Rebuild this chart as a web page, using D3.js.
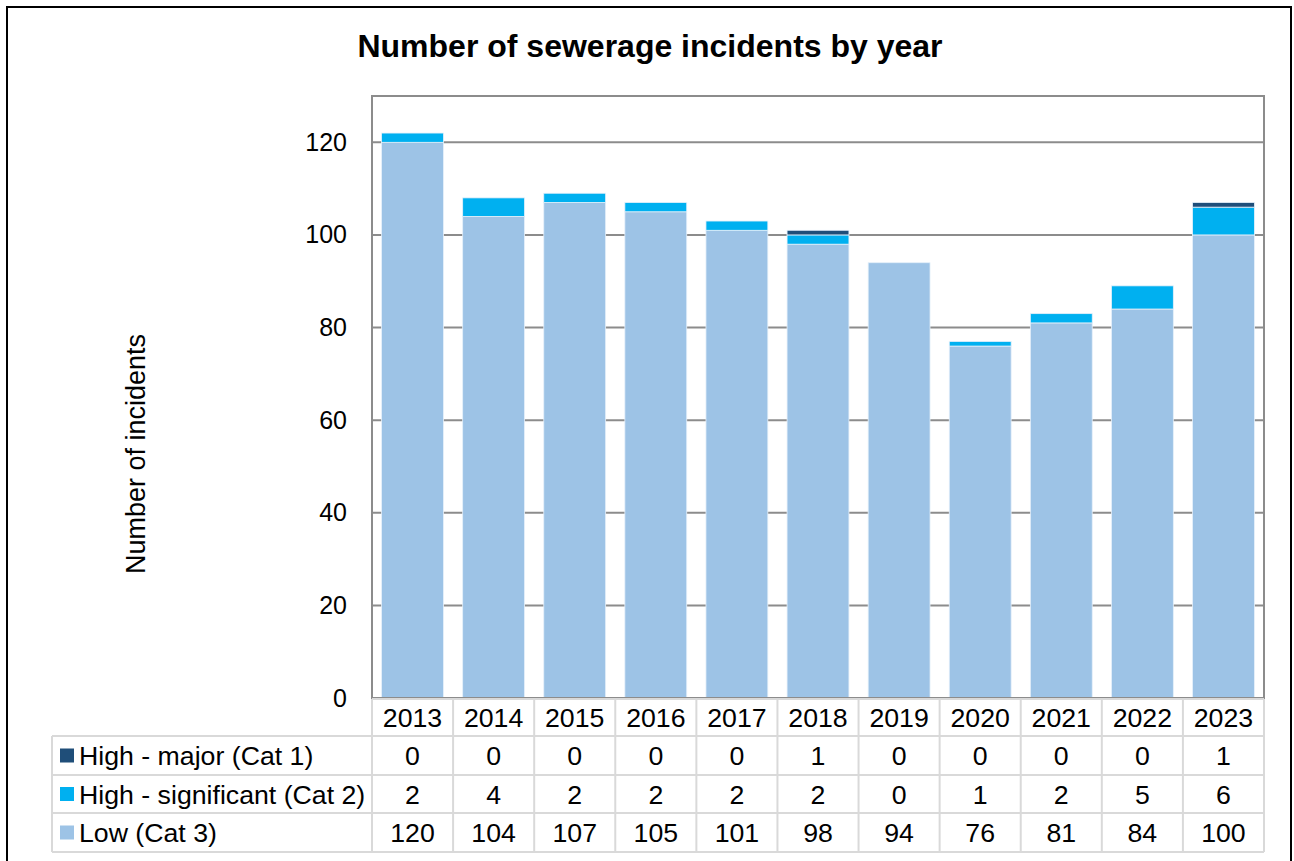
<!DOCTYPE html>
<html>
<head>
<meta charset="utf-8">
<script src="https://cdn.jsdelivr.net/npm/d3@7"></script>
<style>
  html, body { margin: 0; padding: 0; background: #fff; }
  svg { display: block; font-family: Arial, "Liberation Sans", sans-serif; }
</style>
</head>
<body>
<svg id="chart" width="1294" height="861"></svg>
<script>
// Sewerage incidents per year, split by category
const years = ["2013", "2014", "2015", "2016", "2017", "2018", "2019", "2020", "2021", "2022", "2023"];
const cat1 = [0, 0, 0, 0, 0, 1, 0, 0, 0, 0, 1];
const cat2 = [2, 4, 2, 2, 2, 2, 0, 1, 2, 5, 6];
const cat3 = [120, 104, 107, 105, 101, 98, 94, 76, 81, 84, 100];
const seriesNames = ["High - major (Cat 1)", "High - significant (Cat 2)", "Low (Cat 3)"];
const seriesColors = ["#1F4E79", "#00B0F0", "#9DC3E6"];
const yTicks = [0, 20, 40, 60, 80, 100, 120];

const svg = d3.select("#chart");
const plot = { left: 372, right: 1264, top: 96, bottom: 698 };
const tableFont = 26.7;

// Outer chart border
svg.append("rect")
  .attr("x", 7).attr("y", 7).attr("width", 1284).attr("height", 870)
  .attr("fill", "#fff").attr("stroke", "#000").attr("stroke-width", 2);

// Title
svg.append("text")
  .attr("x", 650).attr("y", 57)
  .attr("text-anchor", "middle")
  .attr("font-size", 32).attr("font-weight", "bold")
  .text("Number of sewerage incidents by year");

const x = d3.scaleBand().domain(years).range([plot.left, plot.right]).paddingInner(0.237).paddingOuter(0.118);
const xCell = d3.scaleBand().domain(years).range([plot.left, plot.right]);
const y = d3.scaleLinear().domain([0, 130]).range([plot.bottom, plot.top]);

// Gridlines
svg.append("g")
  .selectAll("line").data(yTicks.filter(d => d > 0)).join("line")
  .attr("x1", plot.left).attr("x2", plot.right)
  .attr("y1", d => y(d)).attr("y2", d => y(d))
  .attr("stroke", "#8c8c8c").attr("stroke-width", 2);

// Stacked bars: Cat 3 at the base, then Cat 2, then Cat 1
const rows = years.map((yr, i) => ({ year: yr, c3: cat3[i], c2: cat2[i], c1: cat1[i] }));
const stack = d3.stack().keys(["c3", "c2", "c1"]);
const layers = stack(rows);
const layerColors = [seriesColors[2], seriesColors[1], seriesColors[0]];

svg.append("g").selectAll("g").data(layers).join("g")
  .attr("fill", (d, i) => layerColors[i])
  .selectAll("rect").data(d => d.filter(s => s[1] - s[0] > 0)).join("rect")
  .attr("x", d => x(d.data.year))
  .attr("width", x.bandwidth())
  .attr("y", d => y(d[1]))
  .attr("height", d => y(d[0]) - y(d[1]))
  .attr("stroke", "#e6f0fa").attr("stroke-width", 0.8);

// Plot frame
svg.append("rect")
  .attr("x", plot.left).attr("y", plot.top)
  .attr("width", plot.right - plot.left).attr("height", plot.bottom - plot.top)
  .attr("fill", "none").attr("stroke", "#8c8c8c").attr("stroke-width", 2);

// Y axis labels
const yAxis = d3.axisLeft(y).tickValues(yTicks).tickSize(0).tickPadding(25);
const gy = svg.append("g").attr("transform", `translate(${plot.left},0)`).call(yAxis);
gy.select(".domain").remove();
gy.selectAll("text").attr("font-size", 25).attr("fill", "#000")
  .attr("font-family", "Arial, 'Liberation Sans', sans-serif");

// Y axis title
svg.append("text")
  .attr("transform", "translate(145,454) rotate(-90)")
  .attr("text-anchor", "middle")
  .attr("font-size", 27)
  .text("Number of incidents");

// Data table below the plot
const tableLeft = 52;
const rowEdges = [699, 736, 775, 813, 852];
const gridColor = "#d9d9d9";
const tbl = svg.append("g");

// horizontal rules
tbl.append("line").attr("x1", plot.left).attr("x2", plot.right)
  .attr("y1", rowEdges[0]).attr("y2", rowEdges[0]).attr("stroke", gridColor).attr("stroke-width", 2);
rowEdges.slice(1).forEach(yy => {
  tbl.append("line").attr("x1", tableLeft).attr("x2", plot.right)
    .attr("y1", yy).attr("y2", yy).attr("stroke", gridColor).attr("stroke-width", 2);
});
// vertical rules
tbl.append("line").attr("x1", tableLeft).attr("x2", tableLeft)
  .attr("y1", rowEdges[1]).attr("y2", rowEdges[4]).attr("stroke", gridColor).attr("stroke-width", 2);
years.forEach(yr => {
  tbl.append("line").attr("x1", xCell(yr)).attr("x2", xCell(yr))
    .attr("y1", rowEdges[0]).attr("y2", rowEdges[4]).attr("stroke", gridColor).attr("stroke-width", 2);
});
tbl.append("line").attr("x1", plot.right).attr("x2", plot.right)
  .attr("y1", rowEdges[0]).attr("y2", rowEdges[4]).attr("stroke", gridColor).attr("stroke-width", 2);

const mid = i => (rowEdges[i] + rowEdges[i + 1]) / 2;

// year header
tbl.selectAll("text.year").data(years).join("text")
  .attr("class", "year")
  .attr("x", d => xCell(d) + xCell.bandwidth() / 2)
  .attr("y", mid(0)).attr("dy", "0.36em")
  .attr("text-anchor", "middle").attr("font-size", tableFont)
  .text(d => d);

// series rows
const seriesValues = [cat1, cat2, cat3];
seriesNames.forEach((name, r) => {
  const cy = mid(r + 1);
  tbl.append("rect")
    .attr("x", 60).attr("y", cy - 7).attr("width", 14).attr("height", 14)
    .attr("fill", seriesColors[r]);
  tbl.append("text")
    .attr("x", 79).attr("y", cy).attr("dy", "0.36em")
    .attr("font-size", tableFont).text(name);
  tbl.selectAll(null).data(seriesValues[r]).join("text")
    .attr("x", (d, i) => xCell(years[i]) + xCell.bandwidth() / 2)
    .attr("y", cy).attr("dy", "0.36em")
    .attr("text-anchor", "middle").attr("font-size", tableFont)
    .text(d => d);
});
</script>
</body>
</html>
